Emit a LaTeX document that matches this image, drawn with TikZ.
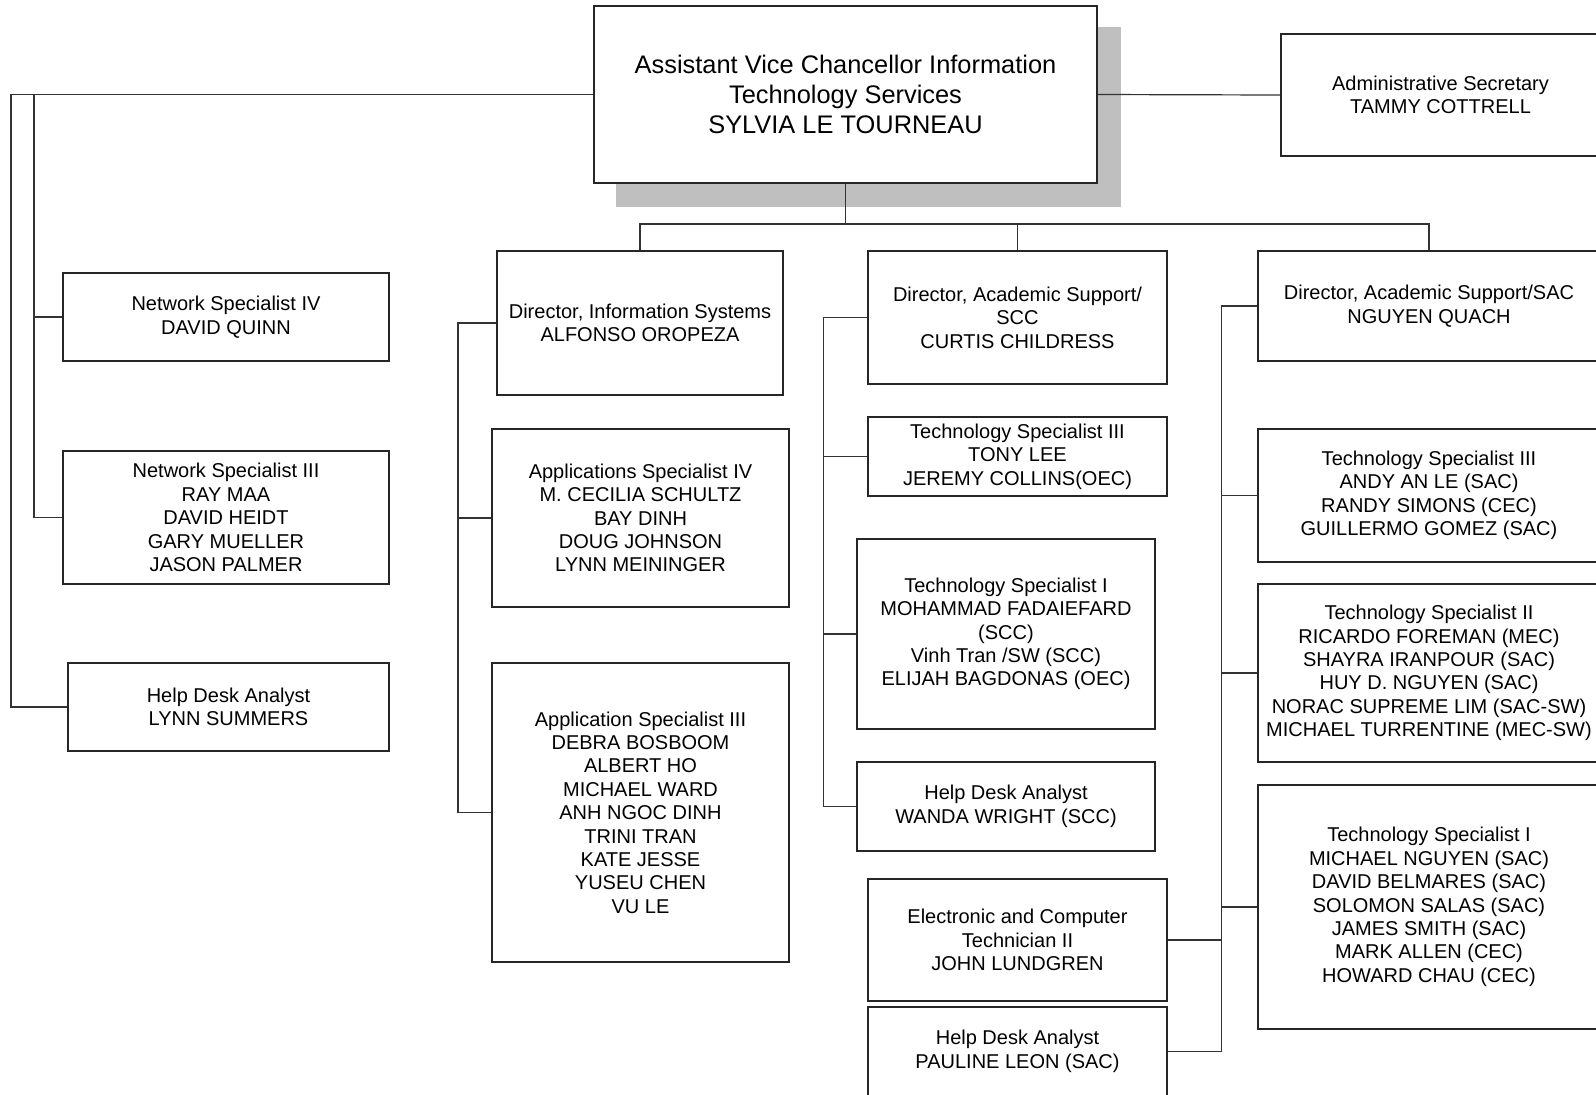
\documentclass[tikz,border=0pt]{standalone}
\usepackage{fontspec}
\setmainfont{Liberation Sans}
\tikzset{
  post/.style={draw=black!85, line width=0.8pt, fill=white, align=center, inner sep=0pt,
    font=\fontsize{10}{11.7}\selectfont},
  link/.style={draw=black!80, line width=0.6pt},
}
\begin{document}
\begin{tikzpicture}[x=0.5pt,y=-0.5pt]
        \useasboundingbox (0,0) rectangle (1596,1094);
        \clip (0,0) rectangle (1596,1094);
        % shadow of the top box
        \fill[black!25] (616,27) rectangle (1121,207);
        \node[post, minimum width=251.5pt, minimum height=88.5pt, font=\fontsize{12.7}{14.8}\selectfont] (avc) at (845.5,94.5)
            {Assistant Vice Chancellor Information\\Technology Services\\SYLVIA LE TOURNEAU};
        \node[post, minimum width=159.5pt, minimum height=61pt] (admin) at (1440.5,95)
            {Administrative Secretary\\TAMMY COTTRELL};
        % left column
        \node[post, minimum width=163pt, minimum height=44pt] (netiv) at (226,317)
            {Network Specialist IV\\DAVID QUINN};
        \node[post, minimum width=163pt, minimum height=66.5pt] (netiii) at (226,517.5)
            {Network Specialist III\\RAY MAA\\DAVID HEIDT\\GARY MUELLER\\JASON PALMER};
        \node[post, minimum width=160.5pt, minimum height=44pt] (helpa) at (228.5,707)
            {Help Desk Analyst\\LYNN SUMMERS};
        % information systems
        \node[post, minimum width=143pt, minimum height=72pt] (diris) at (640,323)
            {Director, Information Systems\\ALFONSO OROPEZA};
        \node[post, minimum width=148.5pt, minimum height=89pt] (appiv) at (640.5,518)
            {Applications Specialist IV\\M. CECILIA SCHULTZ\\BAY DINH\\DOUG JOHNSON\\LYNN MEININGER};
        \node[post, minimum width=148.5pt, minimum height=149.5pt] (appiii) at (640.5,812.5)
            {Application Specialist III\\DEBRA BOSBOOM\\ALBERT HO\\MICHAEL WARD\\ANH NGOC DINH\\TRINI TRAN\\KATE JESSE\\YUSEU CHEN\\VU LE};
        % academic support SCC
        \node[post, minimum width=149.5pt, minimum height=66.5pt] (dirscc) at (1017.5,317.5)
            {Director, Academic Support/\\SCC\\CURTIS CHILDRESS};
        \node[post, minimum width=149.5pt, minimum height=39.5pt] (tsiiiscc) at (1017.5,456.5)
            {Technology Specialist III\\TONY LEE\\JEREMY COLLINS(OEC)};
        \node[post, minimum width=149pt, minimum height=95pt] (tsiscc) at (1006,634)
            {Technology Specialist I\\MOHAMMAD FADAIEFARD\\(SCC)\\Vinh Tran /SW (SCC)\\ELIJAH BAGDONAS (OEC)};
        \node[post, minimum width=149pt, minimum height=44.5pt] (helpscc) at (1006,806.5)
            {Help Desk Analyst\\WANDA WRIGHT (SCC)};
        \node[post, minimum width=149.5pt, minimum height=61pt] (ect) at (1017.5,940)
            {Electronic and Computer\\Technician II\\JOHN LUNDGREN};
        \node[post, minimum width=149.5pt, minimum height=44.5pt] (helpsac) at (1017.5,1051.5)
            {Help Desk Analyst\\PAULINE LEON (SAC)};
        % academic support SAC
        \node[post, minimum width=171pt, minimum height=55pt] (dirsac) at (1429,306)
            {Director, Academic Support/SAC\\NGUYEN QUACH};
        \node[post, minimum width=171pt, minimum height=66.5pt] (tsiiisac) at (1429,495.5)
            {Technology Specialist III\\ANDY AN LE (SAC)\\RANDY SIMONS (CEC)\\GUILLERMO GOMEZ (SAC)};
        \node[post, minimum width=171pt, minimum height=89pt] (tsiisac) at (1429,673)
            {Technology Specialist II\\RICARDO FOREMAN (MEC)\\SHAYRA IRANPOUR (SAC)\\HUY D. NGUYEN (SAC)\\NORAC SUPREME LIM (SAC-SW)\\MICHAEL TURRENTINE (MEC-SW)};
        \node[post, minimum width=171pt, minimum height=122pt] (tsisac) at (1429,907)
            {Technology Specialist I\\MICHAEL NGUYEN (SAC)\\DAVID BELMARES (SAC)\\SOLOMON SALAS (SAC)\\JAMES SMITH (SAC)\\MARK ALLEN (CEC)\\HOWARD CHAU (CEC)};
        % connectors
        \coordinate (lbus) at (34,94.5);
        \coordinate (hub) at (845.5,224);
        \coordinate (isbus) at (458,323);
        \coordinate (sccbus) at (823.5,317.5);
        \coordinate (sacbus) at (1221.5,306);
        \draw[link] (avc.east) -- (admin.west);
        \draw[link] (avc.west) -| (11,707) -- (helpa.west);
        \draw[link] (lbus) |- (netiii.west);
        \draw[link] (netiv.west) -- (netiv.west -| lbus);
        \draw[link] (avc.south) -- (hub);
        \draw[link] (diris.north) |- (hub) -| (dirsac.north);
        \draw[link] (dirscc.north) -- (dirscc.north |- hub);
        \draw[link] (diris.west) -- (isbus) |- (appiii.west);
        \draw[link] (appiv.west) -- (appiv.west -| isbus);
        \draw[link] (dirscc.west) -- (sccbus) |- (helpscc.west);
        \draw[link] (tsiiiscc.west) -- (tsiiiscc.west -| sccbus);
        \draw[link] (tsiscc.west) -- (tsiscc.west -| sccbus);
        \draw[link] (dirsac.west) -- (sacbus) |- (helpsac.east);
        \draw[link] (tsiiisac.west) -- (tsiiisac.west -| sacbus);
        \draw[link] (tsiisac.west) -- (tsiisac.west -| sacbus);
        \draw[link] (tsisac.west) -- (tsisac.west -| sacbus);
        \draw[link] (ect.east) -- (ect.east -| sacbus);
\end{tikzpicture}
\end{document}
